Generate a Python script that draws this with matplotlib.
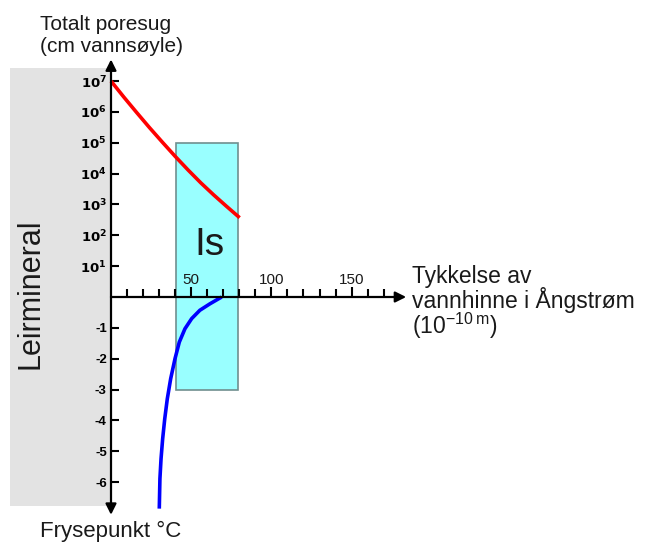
import matplotlib
matplotlib.use("Agg")
import matplotlib.pyplot as plt
from matplotlib.patches import Rectangle
from matplotlib.ticker import FixedLocator, FixedFormatter

plt.rcParams['font.family'] = ['Liberation Sans', 'DejaVu Sans']

# ---- data ----
# upper half: log10 of total pore suction (cm water column)
red_thickness = [0, 8, 16, 24, 32, 40, 48, 56, 64, 72, 80.2]
red_log_suction = [7.0, 6.48, 5.98, 5.49, 5.02, 4.56, 4.12, 3.70, 3.31, 2.94, 2.57]
# lower half: freezing point (deg C)
blue_thickness = [69.0, 61.7, 55.4, 50.3, 46.1, 42.6, 39.9, 37.2, 35.1, 33.5, 32.2,
                  31.2, 30.5, 30.1]
blue_freezing = [0.0, -0.22, -0.43, -0.70, -1.03, -1.46, -2.00, -2.65, -3.30, -3.95,
                 -4.60, -5.24, -5.89, -6.86]

upper_exponents = [1, 2, 3, 4, 5, 6, 7]
upper_labels = [r'$\mathbf{10^{%d}}$' % e for e in upper_exponents]
lower_values = [-1, -2, -3, -4, -5, -6]
lower_labels = ['%d' % v for v in lower_values]

x_major = [50, 100, 150]
x_major_labels = ['50', '100', '150']
x_minor = [10, 20, 30, 40, 60, 70, 80, 90, 110, 120, 130, 140, 160, 170]

ice_x = (40.4, 79.0)
ice_y = (-3.0, 5.0)

# ---- figure ----
W, H = 651, 543
fig = plt.figure(figsize=(W / 100, H / 100), dpi=100)
ax = fig.add_axes([0, 0, 1, 1])
px_x = 1.604   # pixels per Angstrom
px_y = 30.85   # pixels per unit
x0, y0 = 111, 297
ax.set_xlim(-x0 / px_x, (W - x0) / px_x)
ax.set_ylim((y0 - H) / px_y, y0 / px_y)
ax.set_facecolor('white')

# grey clay mineral block
ax.add_patch(Rectangle((-63, -6.77), 63, 7.42 + 6.77, facecolor='#e3e3e3',
                       edgecolor='none', zorder=0))
ax.text(-50, 0.1, 'Leirmineral', rotation=90, fontsize=22, color='#1a1a1a',
        ha='center', va='center')

# ice box
ax.add_patch(Rectangle((ice_x[0], ice_y[0]), ice_x[1] - ice_x[0], ice_y[1] - ice_y[0],
                       facecolor='#99ffff', edgecolor='#6f8f8f', lw=1.2, zorder=1))
ax.text(61.5, 1.7, 'Is', fontsize=28, color='#1a1a1a', ha='center', va='center', zorder=5)

# curves
ax.plot(red_thickness, red_log_suction, color='#ff0000', lw=2.6, zorder=4,
        solid_capstyle='butt', solid_joinstyle='round')
ax.plot(blue_thickness, blue_freezing, color='#0000ff', lw=2.6, zorder=4,
        solid_capstyle='butt', solid_joinstyle='round')

# spines / ticks
for s in ['bottom', 'right']:
    ax.spines[s].set_visible(False)
ax.spines['left'].set_position(('data', 0))
ax.spines['top'].set_position(('data', 0))
ax.spines['left'].set_visible(False)
ax.spines['top'].set_visible(False)

ax.yaxis.set_ticks_position('left')
ax.set_yticks(upper_exponents + lower_values)
ax.set_yticklabels(upper_labels + lower_labels)
ax.tick_params(axis='y', direction='in', length=5.5, width=1.5, pad=3,
               labelsize=9.5, color='black')
for lab in ax.get_yticklabels():
    lab.set_fontweight('bold')

ax.xaxis.set_ticks_position('top')
ax.xaxis.set_label_position('top')
ax.xaxis.set_major_locator(FixedLocator(x_major))
ax.xaxis.set_major_formatter(FixedFormatter(x_major_labels))
ax.xaxis.set_minor_locator(FixedLocator(x_minor))
ax.tick_params(axis='x', which='major', direction='out', length=7.5, width=1.5,
               pad=0, labelsize=11, labelcolor='#1a1a1a')
ax.tick_params(axis='x', which='minor', direction='out', length=5.5, width=1.5)

# axis lines with arrows
for tip in [(184, 0), (0, 7.7), (0, -7.06)]:
    ax.annotate('', xy=tip, xytext=(0, 0),
                arrowprops=dict(arrowstyle='-|>', lw=1.6, color='black',
                                mutation_scale=16, shrinkA=0, shrinkB=0), zorder=6)

# text labels
def fx(px):
    return px / W

def fy(py):
    return 1 - py / H

fig.text(fx(40), fy(30), 'Totalt poresug', fontsize=15, color='#1a1a1a',
         ha='left', va='baseline')
fig.text(fx(40), fy(52), '(cm vannsøyle)', fontsize=15, color='#1a1a1a',
         ha='left', va='baseline')
fig.text(fx(412), fy(283), 'Tykkelse av', fontsize=16.5, color='#1a1a1a',
         ha='left', va='baseline')
fig.text(fx(412), fy(308), 'vannhinne i Ångstrøm', fontsize=16.5, color='#1a1a1a',
         ha='left', va='baseline')
fig.text(fx(412), fy(334), r'(10$^{\mathregular{-10\,m}}$)', fontsize=16.5,
         color='#1a1a1a', ha='left', va='baseline')
fig.text(fx(40), fy(537), 'Frysepunkt °C', fontsize=16, color='#1a1a1a',
         ha='left', va='baseline')

fig.savefig('out.png', dpi=100)
